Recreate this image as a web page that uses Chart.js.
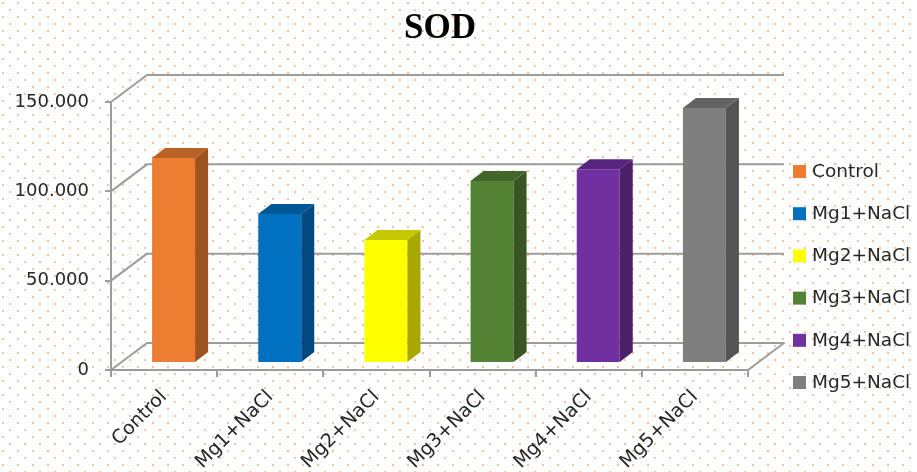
<!DOCTYPE html>
<html><head><meta charset="utf-8">
<script src="https://cdn.jsdelivr.net/npm/chart.js@4.4.1/dist/chart.umd.min.js"></script>
<style>html,body{margin:0;padding:0;background:#fff}#wrap{width:917px;height:472px}</style>
</head><body><div id="wrap"><canvas id="c" width="917" height="472"></canvas></div>
<script>
const chartTitle = 'SOD';
const categories = ['Control', 'Mg1+NaCl', 'Mg2+NaCl', 'Mg3+NaCl', 'Mg4+NaCl', 'Mg5+NaCl'];
const sodValues = [114.7, 83.4, 68.8, 101.8, 108.4, 142.7];
const barColors = ['#ED7D31', '#0070C0', '#FFFF00', '#548235', '#7030A0', '#7F7F7F'];
const yTickValues = [0, 50, 100, 150];
const yTickLabels = ['0', '50.000', '100.000', '150.000'];

const GRID_COLOR = '#9c9c9c';
const TEXT_COLOR = '#262626';
const WALL_DEPTH = { x: 36, y: -27 };
const BAR_SHIFT = { x: 9.5, y: -7 };
const BAR_DEPTH = { x: 13, y: -10 };

function shade(hex, f) {
  const n = parseInt(hex.slice(1), 16);
  const r = Math.round(((n >> 16) & 255) * f), g = Math.round(((n >> 8) & 255) * f), b = Math.round((n & 255) * f);
  return 'rgb(' + r + ',' + g + ',' + b + ')';
}

function makePattern(ctx) {
  const t = document.createElement('canvas');
  t.width = 15; t.height = 14;
  const c = t.getContext('2d');
  c.fillStyle = '#ffffff'; c.fillRect(0, 0, 15, 14);
  c.fillStyle = 'rgba(246,188,148,0.9)';
  c.fillRect(2, 2, 2, 2); c.fillRect(9, 9, 2, 2);
  return ctx.createPattern(t, 'repeat');
}

const threeD = {
  id: 'threeD',
  beforeDraw(chart) {
    const ctx = chart.ctx;
    ctx.save();
    ctx.fillStyle = makePattern(ctx);
    ctx.fillRect(0, 0, chart.width, chart.height);
    ctx.restore();
  },
  beforeDatasetsDraw(chart) {
    const ctx = chart.ctx, ys = chart.scales.y, a = chart.chartArea;
    ctx.save();
    ctx.strokeStyle = GRID_COLOR;
    ctx.lineWidth = 2;
    ctx.lineJoin = 'round';
    ys.ticks.forEach(t => {
      const yv = ys.getPixelForValue(t.value);
      ctx.beginPath();
      ctx.moveTo(a.left, yv);
      ctx.lineTo(a.left + WALL_DEPTH.x, yv + WALL_DEPTH.y);
      ctx.lineTo(a.right + WALL_DEPTH.x, yv + WALL_DEPTH.y);
      if (t.value === 0) ctx.lineTo(a.right, yv);
      ctx.stroke();
    });
    ctx.restore();
    ctx.save();
    ctx.translate(BAR_SHIFT.x, BAR_SHIFT.y);
  },
  afterDatasetsDraw(chart) {
    const ctx = chart.ctx;
    const meta = chart.getDatasetMeta(0);
    meta.data.forEach((bar, i) => {
      const p = bar.getProps(['x', 'y', 'base', 'width'], true);
      const l = p.x - p.width / 2, r = p.x + p.width / 2;
      const col = barColors[i];
      ctx.fillStyle = shade(col, 0.66);
      ctx.beginPath();
      ctx.moveTo(r, p.y);
      ctx.lineTo(r + BAR_DEPTH.x, p.y + BAR_DEPTH.y);
      ctx.lineTo(r + BAR_DEPTH.x, p.base + BAR_DEPTH.y);
      ctx.lineTo(r, p.base);
      ctx.closePath();
      ctx.fill();
      ctx.fillStyle = shade(col, 0.78);
      ctx.beginPath();
      ctx.moveTo(l, p.y);
      ctx.lineTo(l + BAR_DEPTH.x, p.y + BAR_DEPTH.y);
      ctx.lineTo(r + BAR_DEPTH.x, p.y + BAR_DEPTH.y);
      ctx.lineTo(r, p.y);
      ctx.closePath();
      ctx.fill();
    });
    ctx.restore();
  },
  afterDraw(chart) {
    const ctx = chart.ctx;
    ctx.save();
    ctx.fillStyle = '#000';
    ctx.font = 'bold 35px "Liberation Serif"';
    ctx.textAlign = 'center';
    ctx.textBaseline = 'middle';
    ctx.fillText(chartTitle, 440, 29);
    ctx.font = '18.5px "DejaVu Sans"';
    ctx.textAlign = 'left';
    categories.forEach((name, i) => {
      const yc = 172 + i * 42.2;
      ctx.fillStyle = barColors[i];
      ctx.fillRect(793, yc - 7, 13, 13);
      ctx.fillStyle = TEXT_COLOR;
      ctx.fillText(name, 812, yc);
    });
    ctx.restore();
  }
};

new Chart(document.getElementById('c'), {
  type: 'bar',
  data: {
    labels: categories,
    datasets: [{
      label: chartTitle,
      data: sodValues,
      backgroundColor: barColors,
      borderWidth: 0,
      barPercentage: 0.405,
      categoryPercentage: 1.0,
      clip: false
    }]
  },
  options: {
    responsive: false,
    animation: false,
    devicePixelRatio: 1,
    layout: { padding: { top: 102, right: 169, bottom: 0, left: 0 } },
    plugins: {
      legend: { display: false },
      title: { display: false },
      tooltip: { enabled: false }
    },
    scales: {
      x: {
        grid: { offset: true, drawOnChartArea: false, drawTicks: true, tickLength: 7, color: GRID_COLOR, lineWidth: 2 },
        border: { display: true, color: GRID_COLOR, width: 2 },
        ticks: { autoSkip: false, minRotation: 45, maxRotation: 45, padding: 9, color: TEXT_COLOR, font: { family: 'DejaVu Sans', size: 19 } },
        afterFit: s => { s.height = 102; }
      },
      y: {
        min: 0, max: 150,
        grid: { drawOnChartArea: false, drawTicks: true, tickLength: 6, color: GRID_COLOR, lineWidth: 2 },
        border: { display: true, color: GRID_COLOR, width: 2 },
        ticks: {
          stepSize: 50, padding: 16, color: TEXT_COLOR,
          font: { family: 'DejaVu Sans', size: 18 },
          callback: v => { const k = yTickValues.indexOf(v); return k >= 0 ? yTickLabels[k] : ''; }
        },
        afterFit: s => { s.width = 111; }
      }
    }
  },
  plugins: [threeD]
});
</script></body></html>
